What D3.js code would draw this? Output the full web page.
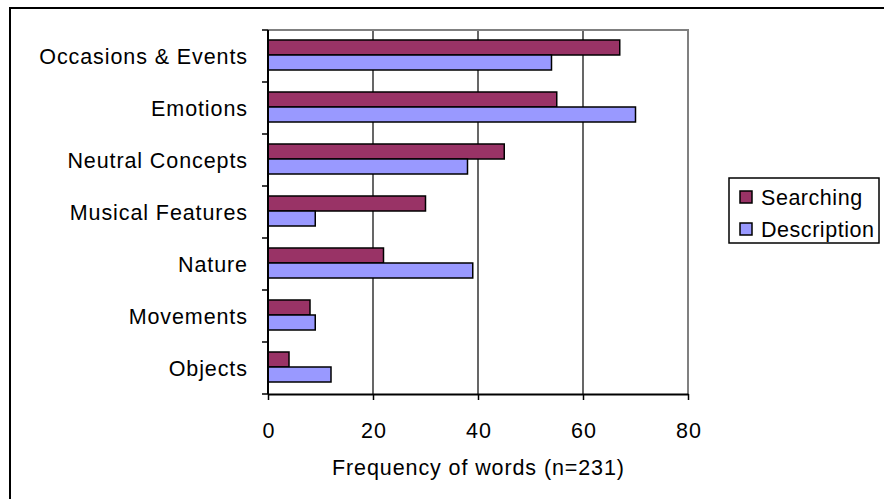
<!DOCTYPE html>
<html>
<head>
<meta charset="utf-8">
<script src="https://cdn.jsdelivr.net/npm/d3@7"></script>
<style>
  html, body { margin: 0; padding: 0; background: #fff; }
  svg { display: block; font-family: Arial, "Liberation Sans", sans-serif; }
</style>
</head>
<body>
<svg id="chart" width="884" height="499"></svg>
<script>
// Word categories, top to bottom
const categories = ["Occasions & Events", "Emotions", "Neutral Concepts", "Musical Features", "Nature", "Movements", "Objects"];
// Word frequencies per category
const searching = [67, 55, 45, 30, 22, 8, 4];
const description = [54, 70, 38, 9, 39, 9, 12];
const seriesNames = ["Searching", "Description"];
const xTicks = [0, 20, 40, 60, 80];
const xTitle = "Frequency of words (n=231)";

const colors = { Searching: "#993366", Description: "#9999FF" };
const FS = 21.5, LS = 0.9;

const svg = d3.select("#chart");
const W = 884, H = 499;
const plot = { left: 268, right: 688, top: 30, bottom: 394 };

// Outer chart frame
svg.append("rect")
  .attr("x", 10).attr("y", 8)
  .attr("width", W + 20).attr("height", H + 20)
  .attr("fill", "#fff").attr("stroke", "#000").attr("stroke-width", 2);

const x = d3.scaleLinear().domain([0, 80]).range([plot.left, plot.right]);
const y = d3.scaleBand().domain(categories).range([plot.top, plot.bottom]).paddingInner(0).paddingOuter(0);
const inner = d3.scaleBand().domain(seriesNames).range([10, 40]);

// Vertical gridlines
svg.append("g").selectAll("line")
  .data(xTicks.filter(t => t > 0 && t < 80))
  .join("line")
  .attr("x1", d => x(d)).attr("x2", d => x(d))
  .attr("y1", plot.top).attr("y2", plot.bottom)
  .attr("stroke", "#000").attr("stroke-width", 1.2);

// Plot area border (top and right, gray)
svg.append("path")
  .attr("d", `M${plot.left},${plot.top}H${plot.right}V${plot.bottom}`)
  .attr("fill", "none").attr("stroke", "#808080").attr("stroke-width", 2);

// Bars
const rows = categories.map((c, i) => ({ c, Searching: searching[i], Description: description[i] }));
const groups = svg.append("g").selectAll("g")
  .data(rows).join("g")
  .attr("transform", d => `translate(0,${y(d.c)})`);
groups.selectAll("rect")
  .data(d => seriesNames.map(s => ({ s, v: d[s] })))
  .join("rect")
  .attr("x", x(0))
  .attr("y", d => inner(d.s))
  .attr("width", d => x(d.v) - x(0))
  .attr("height", inner.bandwidth())
  .attr("fill", d => colors[d.s])
  .attr("stroke", "#000").attr("stroke-width", 1.5);

// X axis
const xAxis = svg.append("g")
  .attr("transform", `translate(0,${plot.bottom})`)
  .call(d3.axisBottom(x).tickValues(xTicks).tickSize(6).tickSizeOuter(0).tickPadding(23));
xAxis.select(".domain").attr("stroke", "#000").attr("stroke-width", 2);
xAxis.selectAll(".tick line").attr("stroke", "#000").attr("stroke-width", 1.5);
xAxis.selectAll(".tick text")
  .attr("font-size", FS).attr("fill", "#000")
  .attr("letter-spacing", LS)
  .attr("dx", LS / 2)
  .attr("font-family", "Arial, 'Liberation Sans', sans-serif");

// Y axis (tick marks at category boundaries)
const yAxis = svg.append("g").attr("transform", `translate(${plot.left},0)`);
yAxis.append("line")
  .attr("x1", 0).attr("x2", 0).attr("y1", plot.top).attr("y2", plot.bottom)
  .attr("stroke", "#000").attr("stroke-width", 2);
yAxis.selectAll("line.tk")
  .data(d3.range(categories.length + 1))
  .join("line").attr("class", "tk")
  .attr("x1", -6).attr("x2", 0)
  .attr("y1", i => plot.top + i * y.step()).attr("y2", i => plot.top + i * y.step())
  .attr("stroke", "#000").attr("stroke-width", 1.5);
yAxis.selectAll("text")
  .data(categories).join("text")
  .attr("x", -21 + LS)
  .attr("y", d => y(d) + y.bandwidth() / 2)
  .attr("dy", "0.35em")
  .attr("text-anchor", "end")
  .attr("font-size", FS)
  .attr("letter-spacing", LS)
  .attr("fill", "#000")
  .text(d => d);

// X axis title
svg.append("text")
  .attr("x", x(40) + LS / 2).attr("y", 475)
  .attr("text-anchor", "middle")
  .attr("font-size", FS).attr("letter-spacing", LS).attr("fill", "#000")
  .text(xTitle);

// Legend
const lg = svg.append("g").attr("transform", "translate(729,178)");
lg.append("rect").attr("width", 150).attr("height", 65)
  .attr("fill", "#fff").attr("stroke", "#000").attr("stroke-width", 1.5);
const items = lg.selectAll("g").data(seriesNames).join("g")
  .attr("transform", (d, i) => `translate(0,${19 + i * 32})`);
items.append("rect")
  .attr("x", 11).attr("y", -6).attr("width", 12).attr("height", 12)
  .attr("fill", d => colors[d]).attr("stroke", "#000").attr("stroke-width", 1.5);
items.append("text")
  .attr("x", 32).attr("y", 0).attr("dy", "0.35em")
  .attr("font-size", FS).attr("letter-spacing", LS * 0.6).attr("fill", "#000")
  .text(d => d);
</script>
</body>
</html>
